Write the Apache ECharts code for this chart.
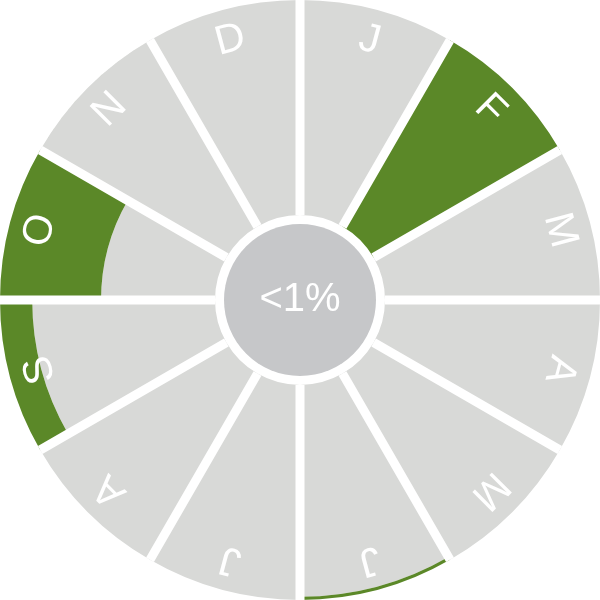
<!DOCTYPE html>
<html>
<head>
<meta charset="utf-8">
<script src="https://cdn.jsdelivr.net/npm/echarts@6/dist/echarts.min.js"></script>
</head>
<body style="margin:0;background:#fff">
<div id="main" style="width:600px;height:600px;"></div>
<script>
// months clockwise from the top
var months = ['J', 'F', 'M', 'A', 'M', 'J', 'J', 'A', 'S', 'O', 'N', 'D'];
// share of each month, drawn from the rim inwards
var values = [0, 100, 0, 0, 0, 1.5, 0, 0, 15, 47, 0, 0];
var maxValue = 100;
var centerLabel = '<1%';

var gray = '#d8d9d7';
var green = '#5b8828';

var chart = echarts.init(document.getElementById('main'));

var rest = values.map(function (v) { return maxValue - v; });
var slots = months.map(function (m, i) { return i; });

var letterData = months.map(function (m, i) {
  return {
    value: 1,
    name: m,
    label: { rotate: -(15 + 30 * i) }
  };
});

var option = {
  animation: false,
  polar: {
    center: ['50%', '50%'],
    radius: [85, 300]
  },
  angleAxis: {
    type: 'category',
    data: slots,
    startAngle: 90,
    clockwise: true,
    z: 10,
    axisLine: { show: false },
    axisTick: { show: false },
    axisLabel: { show: false },
    splitLine: { show: true, lineStyle: { color: '#ffffff', width: 9 } }
  },
  radiusAxis: {
    type: 'value',
    min: 0,
    max: maxValue,
    axisLine: { show: false },
    axisTick: { show: false },
    axisLabel: { show: false },
    splitLine: { show: false }
  },
  series: [
    {
      type: 'bar',
      coordinateSystem: 'polar',
      stack: 'm',
      barCategoryGap: '0%',
      silent: true,
      itemStyle: { color: gray },
      data: rest
    },
    {
      type: 'bar',
      coordinateSystem: 'polar',
      stack: 'm',
      barCategoryGap: '0%',
      silent: true,
      itemStyle: { color: green },
      data: values
    },
    {
      type: 'pie',
      radius: [232, 300],
      center: ['50%', '50%'],
      startAngle: 90,
      clockwise: true,
      silent: true,
      z: 20,
      itemStyle: { color: 'rgba(0,0,0,0)' },
      label: {
        position: 'inside',
        color: '#ffffff',
        fontFamily: 'Liberation Sans',
        fontSize: 41,
        formatter: '{b}'
      },
      labelLine: { show: false },
      emphasis: { disabled: true },
      data: letterData
    },
    {
      type: 'pie',
      radius: [0, 76],
      center: ['50%', '50%'],
      silent: true,
      itemStyle: { color: '#c6c7c9' },
      label: {
        position: 'center',
        color: '#ffffff',
        fontFamily: 'Liberation Sans',
        fontSize: 40,
        formatter: centerLabel
      },
      labelLine: { show: false },
      emphasis: { disabled: true },
      data: [{ value: 1, name: 'share' }]
    }
  ]
};

chart.setOption(option);
</script>
</body>
</html>
